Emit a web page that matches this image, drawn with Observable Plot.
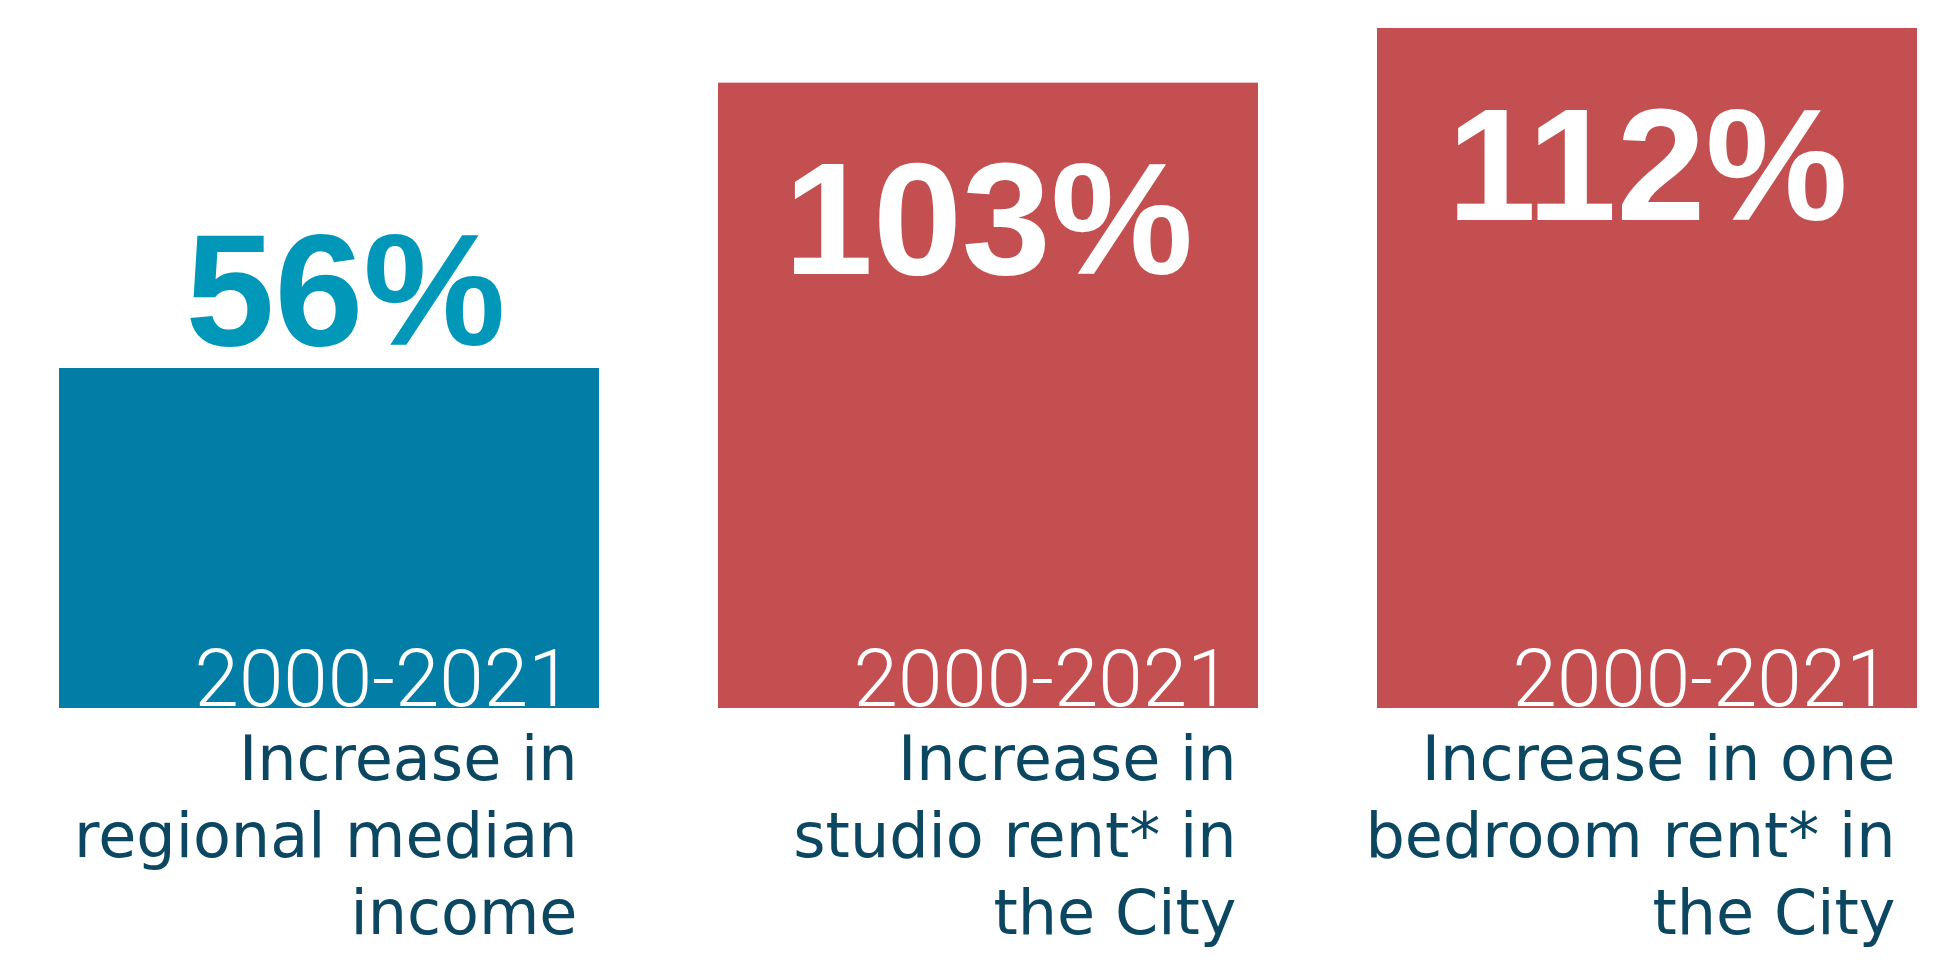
<!DOCTYPE html>
<html>
<head>
<meta charset="utf-8">
<script src="https://cdn.jsdelivr.net/npm/d3@7"></script>
<script src="https://cdn.jsdelivr.net/npm/@observablehq/plot@0.6"></script>
<style>
  html, body { margin: 0; padding: 0; background: #ffffff; }
  #chart svg { display: block; }
</style>
</head>
<body>
<div id="chart"></div>
<script>
const categories = [
  "Increase in\nregional median\nincome",
  "Increase in\nstudio rent* in\nthe City",
  "Increase in one\nbedroom rent* in\nthe City"
];
const values = [56, 103, 112];
const groups = ["income", "rent", "rent"];
const periods = ["2000-2021", "2000-2021", "2000-2021"];

const data = categories.map((c, i) => ({
  category: c,
  value: values[i],
  group: groups[i],
  period: periods[i]
}));

const chart = Plot.plot({
  width: 1959,
  height: 963,
  marginLeft: 58,
  marginRight: 41,
  marginTop: 28,
  marginBottom: 255,
  style: { background: "#ffffff" },
  x: { domain: categories, paddingInner: 0.18, paddingOuter: 0, axis: null },
  y: { domain: [0, 112], axis: null },
  color: { domain: ["income", "rent"], range: ["#027DA6", "#C44F50"] },
  marks: [
    Plot.barY(data, { x: "category", y: "value", fill: "group" }),
    Plot.text(data.filter(d => d.group === "income"), {
      x: "category", y: "value", text: d => d.value + "%",
      fill: "#0097B9", fontSize: 160, fontWeight: 700,
      fontFamily: "Liberation Sans, Arial, sans-serif",
      lineAnchor: "bottom", dy: -24, dx: 16
    }),
    Plot.text(data.filter(d => d.group === "rent"), {
      x: "category", y: "value", text: d => d.value + "%",
      fill: "#ffffff", fontSize: 160, fontWeight: 700,
      fontFamily: "Liberation Sans, Arial, sans-serif",
      lineAnchor: "bottom", dy: 191
    }),
    Plot.text(data, {
      x: "category", y: d => 0, text: "period",
      fill: "#ffffff", fontSize: 80, fontWeight: 300,
      fontFamily: "Roboto, Liberation Sans, sans-serif",
      textAnchor: "end", lineAnchor: "bottom", dx: 243, dy: -3
    }),
    Plot.text(data, {
      x: "category", y: d => 0, text: "category",
      fill: "#0C4762", fontSize: 62, fontWeight: 400,
      fontFamily: "DejaVu Sans, sans-serif",
      textAnchor: "end", lineAnchor: "top", lineHeight: 1.24, dx: 248, dy: 17
    })
  ]
});

document.getElementById("chart").appendChild(chart);
</script>
</body>
</html>
